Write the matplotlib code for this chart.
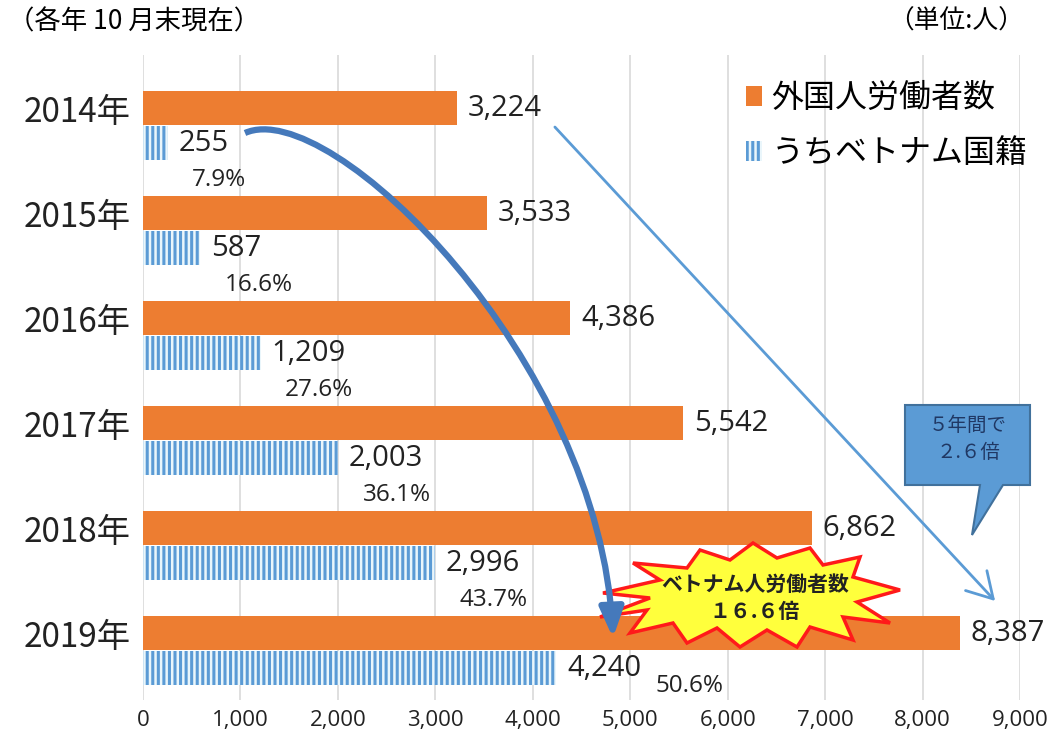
import numpy as np
import matplotlib
matplotlib.use("Agg")
import matplotlib.pyplot as plt
from matplotlib.patches import Patch, Polygon, FancyArrowPatch
from matplotlib.path import Path
from matplotlib.transforms import Affine2D

plt.rcParams["font.family"] = ["Noto Sans CJK JP", "DejaVu Sans"]
plt.rcParams["hatch.linewidth"] = 2.2

years = ["2014年", "2015年", "2016年", "2017年", "2018年", "2019年"]
foreign = [3224, 3533, 4386, 5542, 6862, 8387]
vietnam = [255, 587, 1209, 2003, 2996, 4240]
share = ["7.9%", "16.6%", "27.6%", "36.1%", "43.7%", "50.6%"]
xticks = [0, 1000, 2000, 3000, 4000, 5000, 6000, 7000, 8000, 9000]
legend_labels = ["外国人労働者数", "うちベトナム国籍"]

orange = "#ed7d31"
blue = "#5b9bd5"
hatch_bg = "#eaf6fb"
num_font = "Open Sans"

fig = plt.figure(figsize=(10.5, 7.35), dpi=100)
ax = fig.add_axes([143 / 1050, 35 / 735, 877 / 1050, 645 / 735])

# pixel coords of the picture -> figure
px = Affine2D().scale(1 / 1050, -1 / 735).translate(0, 1) + fig.transFigure

y = np.arange(len(years))
h = 0.32
off = 0.335
ax.barh(y, foreign, height=h, color=orange, zorder=2)
ax.barh(y + off, vietnam, height=h, color=hatch_bg, edgecolor=blue,
        hatch="|||", linewidth=0, zorder=2)

ax.set_xlim(0, 9000)
ax.set_ylim(5.638, -0.505)
ax.set_yticks(y, years, fontsize=24)
ax.set_xticks(xticks, [f"{v:,}" for v in xticks], fontsize=16, fontfamily=num_font)
ax.tick_params(axis="both", length=0, colors="#222222")
ax.tick_params(axis="y", pad=9)
ax.tick_params(axis="x", pad=7)
ax.grid(axis="x", color="#d9d9d9", lw=1.2)
ax.set_axisbelow(True)
for s in ax.spines.values():
    s.set_visible(False)

for i in range(len(years)):
    ax.text(foreign[i] + 110, y[i], f"{foreign[i]:,}", va="center", ha="left",
            fontsize=21, fontfamily=num_font, color="#222222")
    ax.text(vietnam[i] + 110, y[i] + off, f"{vietnam[i]:,}", va="center", ha="left",
            fontsize=21, fontfamily=num_font, color="#222222")
    if i < len(years) - 1:
        ax.text(vietnam[i] + 250, y[i] + off + 0.355, share[i], va="center", ha="left",
                fontsize=17.5, fontfamily=num_font, color="#222222")
    else:
        ax.text(vietnam[i] + 1020, y[i] + off + 0.17, share[i], va="center", ha="left",
                fontsize=17.5, fontfamily=num_font, color="#222222")

fig.text(8 / 1050, 1 - 22 / 735, "（各年 10 月末現在）", fontsize=19, va="center")
fig.text(1024 / 1050, 1 - 22 / 735, "（単位:人）", fontsize=18.5, va="center", ha="right")

handles = [Patch(fc=orange), Patch(fc=hatch_bg, ec=blue, hatch="|||", lw=0)]
fig.legend(handles, legend_labels, loc="upper left", bbox_to_anchor=(746 / 1050, 1 - 82 / 735),
           frameon=False, fontsize=23, handlelength=0.5, handleheight=0.6,
           handletextpad=0.3, labelspacing=0.72, borderpad=0, borderaxespad=0)

# straight trend arrow
fig.add_artist(FancyArrowPatch((553, 125), (997, 603), transform=px,
                               arrowstyle="->,head_length=0.6,head_width=0.35",
                               mutation_scale=30, color=blue, lw=2, zorder=3))

# starburst
burst = [(603, 593), (660, 580), (633, 563), (687, 568), (700, 550), (730, 560),
         (753, 543), (777, 558), (810, 548), (823, 565), (860, 557), (853, 577),
         (900, 590), (857, 602), (890, 623), (843, 617), (853, 640), (810, 627),
         (797, 647), (767, 630), (740, 647), (717, 628), (687, 643), (673, 623),
         (630, 633), (647, 610), (600, 617), (650, 598)]
fig.add_artist(Polygon(burst, closed=True, transform=px, fc="#ffff3c", ec="#ff1a1a",
                       lw=2.5, zorder=4))
fig.text(755 / 1050, 1 - 584 / 735, "ベトナム人労働者数", ha="center", va="center",
         fontsize=15, fontweight="bold", color="#222222", zorder=5)
fig.text(755 / 1050, 1 - 612 / 735, "１６.６倍", ha="center", va="center",
         fontsize=15, fontweight="bold", color="#222222", zorder=5)

# curved arrow
curve = Path([(245, 133), (330, 95), (600, 360), (613, 638)],
             [Path.MOVETO, Path.CURVE4, Path.CURVE4, Path.CURVE4])
fig.add_artist(FancyArrowPatch(path=curve, transform=px,
                               arrowstyle="-|>,head_length=1.5,head_width=0.6",
                               mutation_scale=12, color="#4579bb", lw=4.5,
                               capstyle="butt", zorder=6))

# callout
callout = [(905, 405), (1030, 405), (1030, 485), (1003, 485), (972, 535), (980, 485), (905, 485)]
fig.add_artist(Polygon(callout, closed=True, transform=px, fc=blue, ec="#41719c",
                       lw=1.5, zorder=4))
fig.text(968 / 1050, 1 - 425 / 735, "５年間で", ha="center", va="center",
         fontsize=14, color="#203864", zorder=5)
fig.text(968 / 1050, 1 - 453 / 735, "２.６倍", ha="center", va="center",
         fontsize=14, color="#203864", zorder=5)

fig.savefig("out.png", dpi=100)
